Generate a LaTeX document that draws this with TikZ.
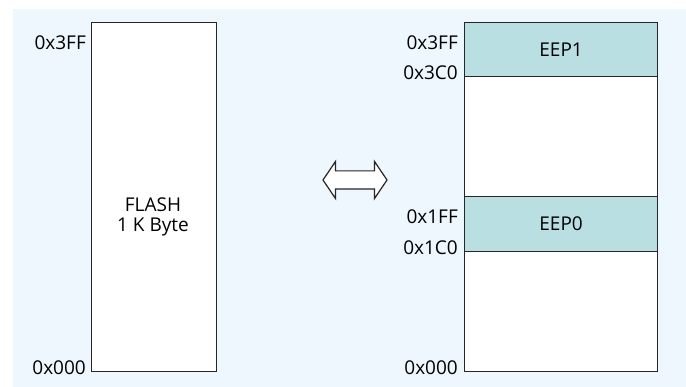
\documentclass[tikz,border=0pt]{standalone}
\usepackage{fontspec}
\setmainfont{Open Sans}
\usetikzlibrary{positioning,shapes.arrows}
\definecolor{bg}{HTML}{EDF7FD}
\definecolor{eep}{HTML}{BADFE2}

\tikzset{
  membox/.style={draw=black!85, line width=1.2pt, fill=white, inner sep=0pt, anchor=north west},
  eepbox/.style={membox, fill=eep, minimum width=193pt, font=\fontsize{19}{22}\selectfont},
  addr/.style={anchor=east, inner sep=0pt, font=\fontsize{19}{22}\selectfont},
}

\begin{document}
\begin{tikzpicture}[x=1pt,y=-1pt]
  \useasboundingbox (0,0) rectangle (686,387);
  \fill[bg] (13,9) rectangle (686,387);

  % flash memory, whole
  \node[membox, minimum width=125pt, minimum height=349pt] (flash) at (91,22) {};
  \node[align=center, font=\fontsize{19}{20.5}\selectfont] (flashtxt) at (153,217) {FLASH\\1 K Byte};
  \node[addr] (ftop) at (86,43) {0x3FF};
  \node[addr] (fbot) at (86,368) {0x000};

  % arrow between
  \node[draw=black!85, line width=1.2pt, fill=white, shape=double arrow, inner xsep=0pt,
        inner ysep=8.5pt, minimum height=64pt, double arrow head extend=9.5pt,
        double arrow tip angle=112] (swap) at (355,180) {};

  % flash memory split in blocks
  \node[membox, minimum width=193pt, minimum height=349pt] (mem) at (464,22) {};
  \node[eepbox, minimum height=54pt] (eep1) at (mem.north west) {EEP1};
  \node[eepbox, minimum height=55pt] (eep0) at (464,196) {EEP0};
  \node[addr] (t1) at (458,43) {0x3FF};
  \node[addr] (b1) at (458,73) {0x3C0};
  \node[addr] (t0) at (458,217) {0x1FF};
  \node[addr] (b0) at (458,248) {0x1C0};
  \node[addr] (mbot) at (458,368) {0x000};
\end{tikzpicture}
\end{document}
